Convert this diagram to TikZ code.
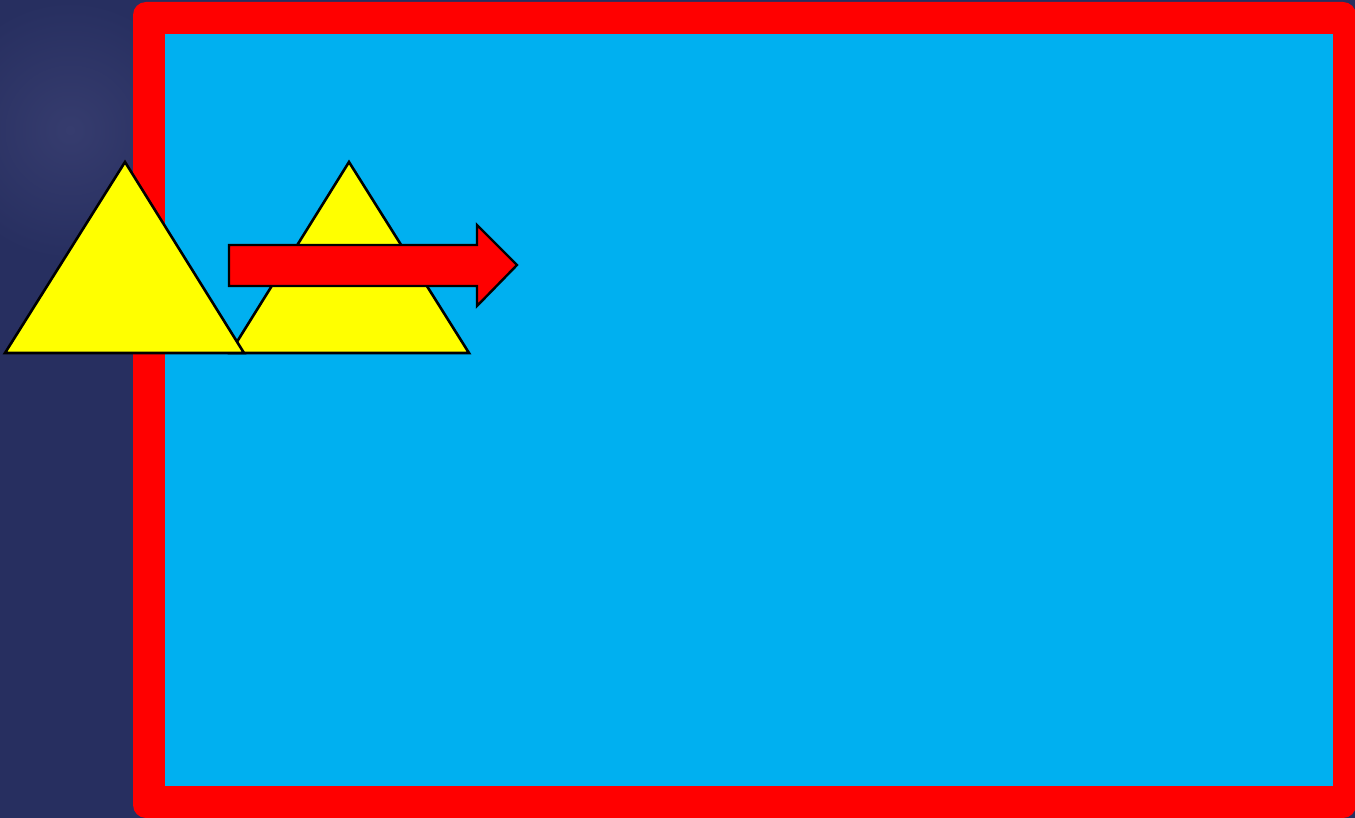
\documentclass[tikz,border=0pt]{standalone}
\usetikzlibrary{shapes.arrows}
\definecolor{navy}{HTML}{272F60}
\definecolor{navylight}{HTML}{363C6E}
\definecolor{frame}{HTML}{FF0000}
\definecolor{panel}{HTML}{00B0F0}
\definecolor{tri}{HTML}{FFFF00}
\tikzset{
  tristyle/.style={fill=tri, draw=black, line width=2.6pt, line join=miter},
  arrowstyle/.style={fill=frame, draw=black, line width=2.4pt, line join=miter}
}
\begin{document}
\begin{tikzpicture}[x=1pt,y=-1pt]
\useasboundingbox (0,0) rectangle (1355,818);
% background
\fill[navy] (0,0) rectangle (1355,818);
\begin{scope}
\clip (0,0) rectangle (133,818);
\shade[inner color=navylight, outer color=navy] (70,130) circle (130);
\end{scope}
% frame and panel
\fill[frame, rounded corners=13pt] (133,2) rectangle (1356,818);
\fill[panel] (165,34) rectangle (1333,786);
% right triangle
\coordinate (t2a) at (349,162);
\coordinate (t2b) at (230,353);
\coordinate (t2c) at (469,353);
\draw[tristyle] (t2a) -- (t2c) -- (t2b) -- cycle;
% left triangle
\coordinate (t1a) at (125,162);
\coordinate (t1b) at (5,353);
\coordinate (t1c) at (244,353);
\draw[tristyle] (t1a) -- (t1c) -- (t1b) -- cycle;
% arrow
\draw[arrowstyle] (229,245) -- (477,245) -- (477,225) -- (517,265) -- (477,306) -- (477,286) -- (229,286) -- cycle;
\end{tikzpicture}
\end{document}
